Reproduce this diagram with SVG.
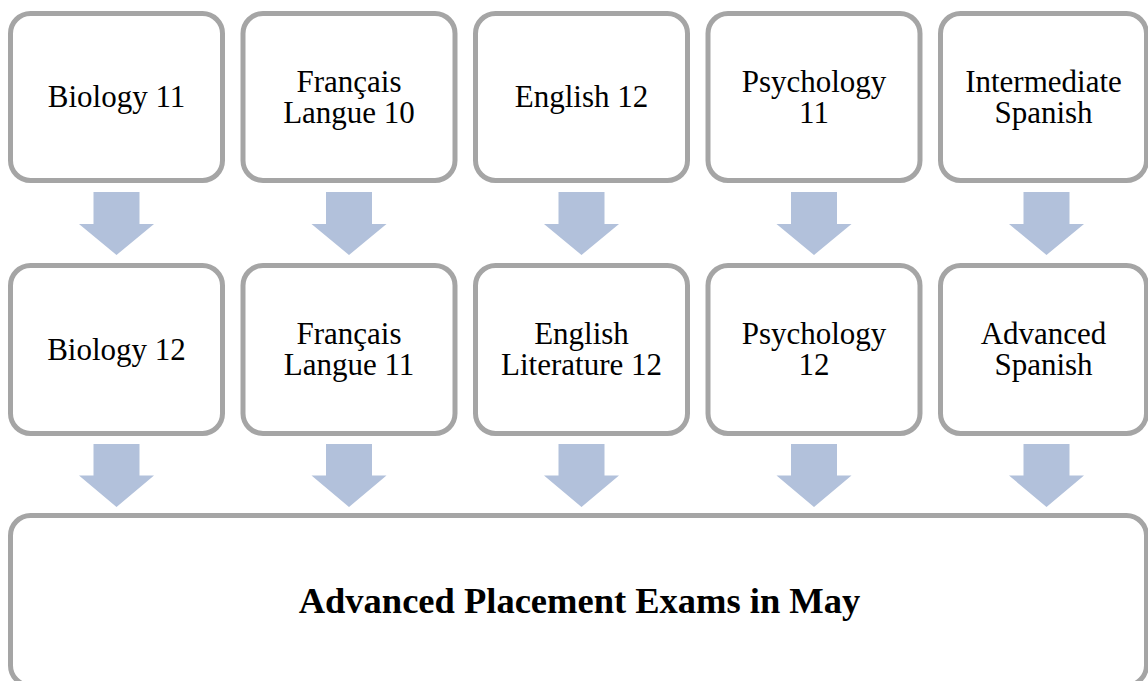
<svg xmlns="http://www.w3.org/2000/svg" width="1148" height="681" viewBox="0 0 1148 681">
<style>
.box{fill:#fff;stroke:#a5a5a5;stroke-width:5}
.t{font-family:"Liberation Serif","Times New Roman",serif;font-size:31px;fill:#000;text-anchor:middle}
.b{font-family:"Liberation Serif","Times New Roman",serif;font-size:36.5px;font-weight:bold;fill:#000;text-anchor:middle}
.arr{fill:#b2c1db}
</style>
<rect width="1148" height="681" fill="#fff"/>
<g id="connectors">
<polygon class="arr" points="93.5,192 139.5,192 139.5,224 154,224 116.5,255 79,224 93.5,224"/>
<polygon class="arr" points="326,192 372,192 372,224 386.5,224 349,255 311.5,224 326,224"/>
<polygon class="arr" points="558.5,192 604.5,192 604.5,224 619,224 581.5,255 544,224 558.5,224"/>
<polygon class="arr" points="791,192 837,192 837,224 851.5,224 814,255 776.5,224 791,224"/>
<polygon class="arr" points="1023.5,192 1069.5,192 1069.5,224 1084,224 1046.5,255 1009,224 1023.5,224"/>
<polygon class="arr" points="93.5,444 139.5,444 139.5,475.5 154,475.5 116.5,507 79,475.5 93.5,475.5"/>
<polygon class="arr" points="326,444 372,444 372,475.5 386.5,475.5 349,507 311.5,475.5 326,475.5"/>
<polygon class="arr" points="558.5,444 604.5,444 604.5,475.5 619,475.5 581.5,507 544,475.5 558.5,475.5"/>
<polygon class="arr" points="791,444 837,444 837,475.5 851.5,475.5 814,507 776.5,475.5 791,475.5"/>
<polygon class="arr" points="1023.5,444 1069.5,444 1069.5,475.5 1084,475.5 1046.5,507 1009,475.5 1023.5,475.5"/>
</g>
<g id="n1"><rect class="box" x="10.5" y="13.5" width="212" height="167" rx="20"/><text class="t" x="116.5" y="107">Biology 11</text></g>
<g id="n2"><rect class="box" x="243" y="13.5" width="212" height="167" rx="20"/><text class="t" x="349" y="91.7">Français</text><text class="t" x="349" y="122.7">Langue 10</text></g>
<g id="n3"><rect class="box" x="475.5" y="13.5" width="212" height="167" rx="20"/><text class="t" x="581.5" y="107">English 12</text></g>
<g id="n4"><rect class="box" x="708" y="13.5" width="212" height="167" rx="20"/><text class="t" x="814" y="91.7">Psychology</text><text class="t" x="814" y="122.7">11</text></g>
<g id="n5"><rect class="box" x="940.5" y="13.5" width="206" height="167" rx="20"/><text class="t" x="1043.5" y="91.7">Intermediate</text><text class="t" x="1043.5" y="122.7">Spanish</text></g>
<g id="n6"><rect class="box" x="10.5" y="265.5" width="212" height="168" rx="20"/><text class="t" x="116.5" y="359.5">Biology 12</text></g>
<g id="n7"><rect class="box" x="243" y="265.5" width="212" height="168" rx="20"/><text class="t" x="349" y="344.2">Français</text><text class="t" x="349" y="375.2">Langue 11</text></g>
<g id="n8"><rect class="box" x="475.5" y="265.5" width="212" height="168" rx="20"/><text class="t" x="581.5" y="344.2">English</text><text class="t" x="581.5" y="375.2">Literature 12</text></g>
<g id="n9"><rect class="box" x="708" y="265.5" width="212" height="168" rx="20"/><text class="t" x="814" y="344.2">Psychology</text><text class="t" x="814" y="375.2">12</text></g>
<g id="n10"><rect class="box" x="940.5" y="265.5" width="206" height="168" rx="20"/><text class="t" x="1043.5" y="344.2">Advanced</text><text class="t" x="1043.5" y="375.2">Spanish</text></g>
<g id="n11"><rect class="box" x="10.5" y="515.5" width="1136" height="170" rx="20"/><text class="b" x="579.5" y="613">Advanced Placement Exams in May</text></g>
</svg>
